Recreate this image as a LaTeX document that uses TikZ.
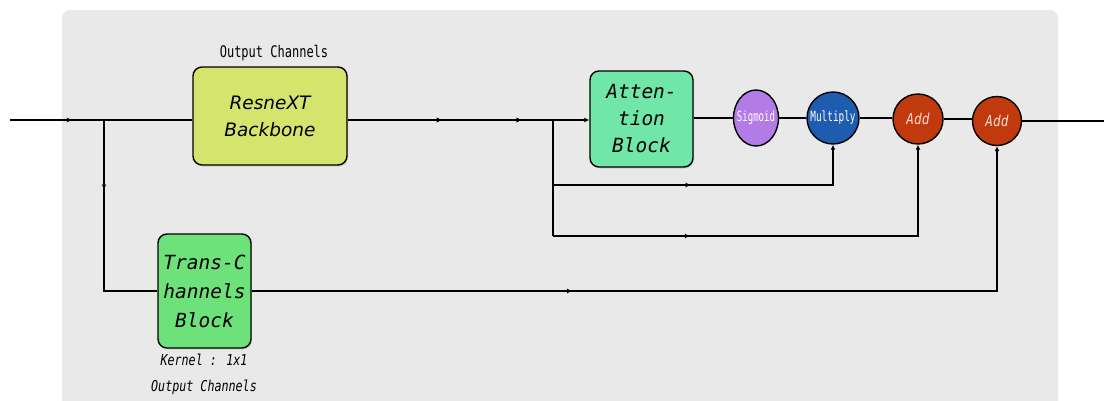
\documentclass[tikz,border=0pt]{standalone}
\usepackage{fontspec}
\setmainfont{DejaVu Sans}
\newfontfamily\monof{DejaVu Sans Mono}
\newfontfamily\sansf{DejaVu Sans}
\usetikzlibrary{arrows.meta,decorations.markings,shadows,shapes.geometric}
\definecolor{bgpanel}{HTML}{E9E9E9}
\definecolor{ygreen}{HTML}{D4E46C}
\definecolor{mintg}{HTML}{70E6A8}
\definecolor{leafg}{HTML}{6EE27A}
\definecolor{sigcol}{HTML}{B37BE6}
\definecolor{mulcol}{HTML}{1E5CB0}
\definecolor{addcol}{HTML}{C13A0D}
\definecolor{addtxt}{HTML}{FFD9CC}
\tikzset{
  wire/.style={line width=2pt, black},
  tipat/.style={postaction={decorate}, decoration={markings, mark=at position #1 with {\arrow{Latex[length=5pt,width=5pt]}}}},
  blk/.style={draw=black, line width=1.4pt, rounded corners=9pt, align=center,
     drop shadow={opacity=0.25, shadow xshift=1pt, shadow yshift=-1.5pt}, inner sep=2pt},
  opnode/.style={draw=black, line width=1.4pt, inner sep=0pt},
  endtip/.style={-{Latex[length=5pt,width=5pt]}},
  smalllab/.style={font=\monof\fontsize{16}{18}\selectfont, inner sep=0pt}
}
\begin{document}
\begin{tikzpicture}[x=1pt,y=-1pt]
\useasboundingbox (0,0) rectangle (1104,400);
\clip (0,0) rectangle (1104,400);
\fill[bgpanel, rounded corners=8pt] (62,10) rectangle (1058,430);

% blocks
\node[blk, fill=ygreen, minimum width=154, minimum height=98,
      font=\sansf\itshape\fontsize{18.5}{27}\selectfont] (res) at (270,116) {ResneXT\\Backbone};
\node[blk, fill=mintg, minimum width=103, minimum height=96,
      font=\monof\itshape\fontsize{19.5}{27}\selectfont] (att) at (641.5,119) {Atten-\\tion\\Block};
\node[blk, fill=leafg, minimum width=93, minimum height=114,
      font=\monof\itshape\fontsize{19.5}{29}\selectfont] (trans) at (204.5,291) {Trans-C\\hannels\\Block};

% operators
\node[opnode, ellipse, fill=sigcol, minimum width=45, minimum height=56, text=white,
      font=\monof\fontsize{14}{16}\selectfont] (sig) at (756,118) {\makebox[0pt]{\scalebox{0.65}[1]{Sigmoid}}};
\node[opnode, circle, fill=mulcol, minimum size=52, text=white,
      font=\monof\fontsize{14}{16}\selectfont] (mul) at (833,118) {\makebox[0pt]{\scalebox{0.67}[1]{Multiply}}};
\node[opnode, circle, fill=addcol, minimum size=50, text=addtxt,
      font=\monof\itshape\fontsize{15}{17}\selectfont] (add1) at (918,119) {\makebox[0pt]{\scalebox{0.85}[1]{Add}}};
\node[opnode, circle, fill=addcol, minimum size=49, text=addtxt,
      font=\monof\itshape\fontsize{15}{17}\selectfont] (add2) at (997,121) {\makebox[0pt]{\scalebox{0.85}[1]{Add}}};

% labels
\node[smalllab] (lab1) at (274,53) {\scalebox{0.75}[1]{Output Channels}};
\node[smalllab, font=\monof\itshape\fontsize{15}{17}\selectfont] (lab2) at (204,360) {\scalebox{0.78}[1]{Kernel : 1x1}};
\node[smalllab, font=\monof\itshape\fontsize{15}{17}\selectfont] (lab3) at (204,387) {\scalebox{0.78}[1]{Output Channels}};

% coordinates
\coordinate (in) at (10,120);
\coordinate (s1) at (104,120);
\coordinate (s2) at (553,120);
\coordinate (b1) at (553,185);
\coordinate (b2) at (553,236);
\coordinate (out) at (1104,120);

% connectors
\draw[wire, tipat=0.34] (in) -- (res.west |- in);
\draw[wire, tipat=0.31] (s1) |- (trans.west);
\draw[wire, tipat=0.39, tipat=0.72, endtip] (res.east |- in) -- (att.west |- in);
\draw[wire] (s2) -- (b2);
\draw[wire, tipat=0.43, endtip] (b1) -| (mul.south);
\draw[wire, tipat=0.30, endtip] (b2) -| (add1.south);
\draw[wire, tipat=0.36, endtip] (trans.east) -| (add2.south);
\draw[wire] (att.east |- sig.west) -- (sig.west);
\draw[wire] (sig.east) -- (mul.west);
\draw[wire] (mul.east) -- (add1.west |- mul.east);
\draw[wire] (add1.east) -- (add2.west |- add1.east);
\draw[wire] (add2.east) -- (out |- add2.east);
\end{tikzpicture}
\end{document}
